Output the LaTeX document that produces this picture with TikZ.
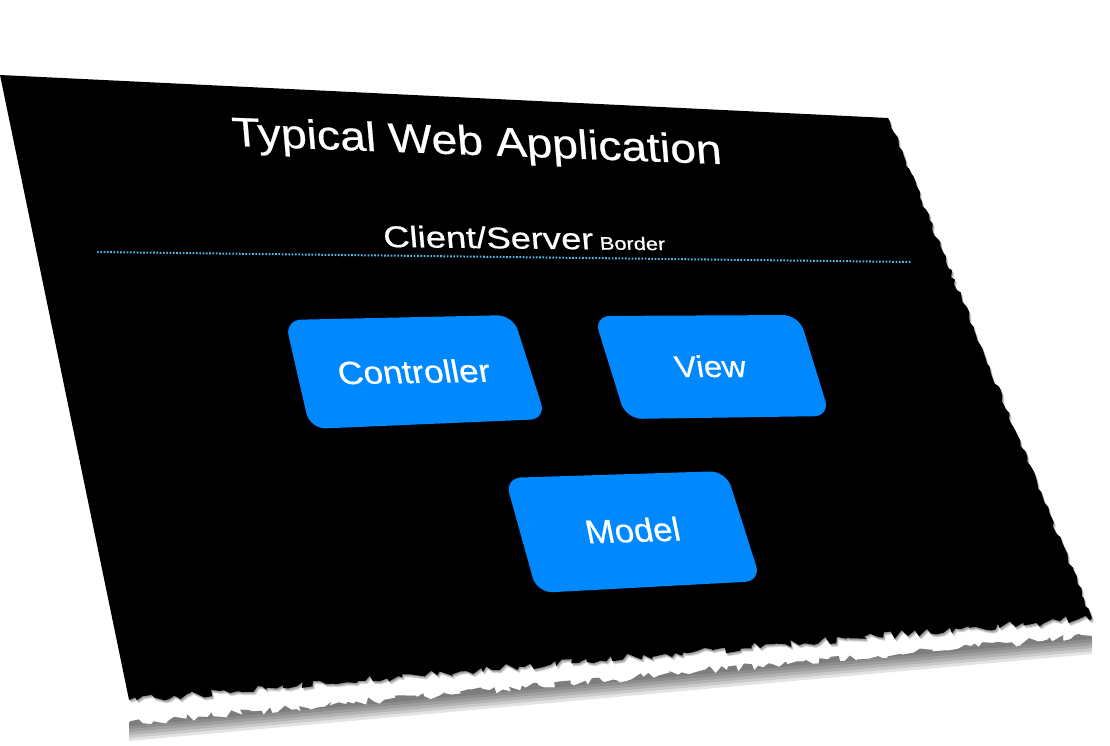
\documentclass[tikz,border=0pt]{standalone}
\usepackage{fontspec}
\setmainfont{Liberation Sans}
\newfontfamily\slidefont{Liberation Sans}[FakeBold=0.5]
\usetikzlibrary{decorations.pathmorphing}
\definecolor{cardblue}{RGB}{0,136,255}
\definecolor{seamblue}{RGB}{80,182,232}
\tikzset{
  card/.style     = {fill=cardblue, rounded corners=16pt},
  cardtext/.style = {text=white, inner sep=0pt, anchor=base, xscale=1.1, xslant=-0.15, font=\slidefont\fontsize{32}{36}\selectfont},
  seam/.style     = {draw=seamblue, line width=2pt, dash pattern=on 1.7pt off 1.6pt},
  rough/.style    = {decoration={random steps, segment length=5pt, amplitude=1.8pt}},
  ragged/.style   = {decoration={random steps, segment length=5pt, amplitude=4pt}},
}
\newcommand\slideoutline{(0,75) -- (888,118) decorate[rough]{-- (1092,618)} decorate[ragged]{-- (129,700)} -- cycle}

\begin{document}
\begin{tikzpicture}[x=1pt, y=-1pt]
    \fill[white] (0,0) rectangle (1110,746);
    \useasboundingbox (0,0) rectangle (1110,746);

    % Reflection under the torn edge
    \foreach \d in {3,6,...,18} {
      \pgfmathsetseed{3}
      \fill[black, opacity=.11] (129,723) decorate[ragged]{-- (1092,636)} -- (1092,636+\d) -- (129,723+\d) -- cycle;
    }

    % Slide with soft shadow
    \foreach \s in {1,...,4} {
      \pgfmathsetseed{7}
      \fill[black, opacity=.13, shift={(0.5*\s,0.8*\s)}] \slideoutline;
    }
    \pgfmathsetseed{7}
    \fill[black] \slideoutline;

    % Title and border line
    \node[cardtext, xscale=1.02, xslant=0.03, rotate=-2.4, font=\slidefont\fontsize{41}{48}\selectfont] (title) at (478,155) {Typical Web Application};
    \node[cardtext, anchor=base west, xscale=1.1, xslant=0.05, rotate=-0.8, font=\slidefont\fontsize{30}{34}\selectfont] (border) at (384,247) {Client/Server{\fontsize{18}{20}\selectfont{} Border}};
    \coordinate (seamL) at (97,252);
    \coordinate (seamR) at (912,262);
    \draw[seam] (seamL) -- (seamR);

    % Cards
    \fill[card] (285,320) -- (513,315) -- (546,419) -- (310,429) -- cycle;
    \fill[card] (594,316) -- (799,315) -- (830,416) -- (626,419) -- cycle;
    \fill[card] (505,478) -- (726,471) -- (761,581) -- (537,593) -- cycle;
    \node[cardtext, rotate=1] (ctrl) at (416,383) {Controller};
    \node[cardtext, font=\slidefont\fontsize{30}{34}\selectfont] (view) at (712,377) {View};
    \node[cardtext, rotate=2, xscale=0.96, font=\slidefont\fontsize{33}{38}\selectfont] (model) at (635,542) {Model};
\end{tikzpicture}
\end{document}
